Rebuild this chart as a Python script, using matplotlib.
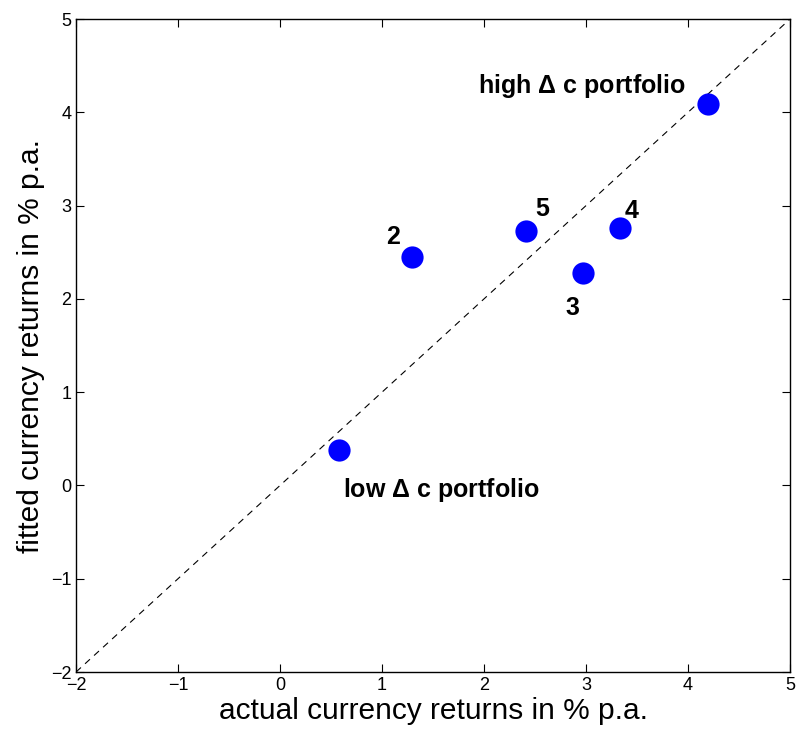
import matplotlib
matplotlib.use('Agg')
import matplotlib.pyplot as plt

# portfolio returns (actual vs fitted), % p.a.
actual = [0.58, 1.29, 2.97, 3.33, 2.41, 4.20]
fitted = [0.38, 2.45, 2.28, 2.76, 2.73, 4.09]

# labels and where they go
labels = ['low $\\Delta$ c portfolio', '2', '3', '4', '5', 'high $\\Delta$ c portfolio']
label_x = [0.62, 1.11, 2.87, 3.45, 2.57, 1.94]
label_y = [-0.05, 2.66, 1.90, 2.94, 2.96, 4.28]
label_ha = ['left', 'center', 'center', 'center', 'center', 'left']

ticks = [-2, -1, 0, 1, 2, 3, 4, 5]
tick_labels = ['\u22122', '\u22121', '0', '1', '2', '3', '4', '5']

plt.rcParams['font.family'] = ['Liberation Sans', 'DejaVu Sans']
plt.rcParams['mathtext.fontset'] = 'custom'
plt.rcParams['mathtext.rm'] = 'Liberation Sans:bold'
plt.rcParams['mathtext.it'] = 'Liberation Sans:bold'

fig = plt.figure(figsize=(7.96, 7.35), dpi=100)
ax = fig.add_axes([0.0955, 0.0857, 0.897, 0.8884])

# 45 degree line
ax.plot([-2, 5], [-2, 5], 'k--', lw=0.8, dashes=(6, 5))
ax.plot(actual, fitted, 'o', color='#0000ff', markersize=16, markeredgewidth=0)

for t, x, y, ha in zip(labels, label_x, label_y, label_ha):
    ax.text(x, y, t, fontsize=18, fontweight='bold', ha=ha, va='center')

ax.set_xlim(-2, 5)
ax.set_ylim(-2, 5)
ax.set_xticks(ticks)
ax.set_yticks(ticks)
ax.set_xticklabels(tick_labels)
ax.set_yticklabels(tick_labels)
ax.tick_params(direction='in', top=True, right=True, length=6, labelsize=13, width=0.8)
for s in ax.spines.values():
    s.set_linewidth(1.0)

ax.set_xlabel('actual currency returns in % p.a.', fontsize=21.5, labelpad=2)
ax.set_ylabel('fitted currency returns in % p.a.', fontsize=21.5, labelpad=4)

fig.savefig('out.png', dpi=100)
